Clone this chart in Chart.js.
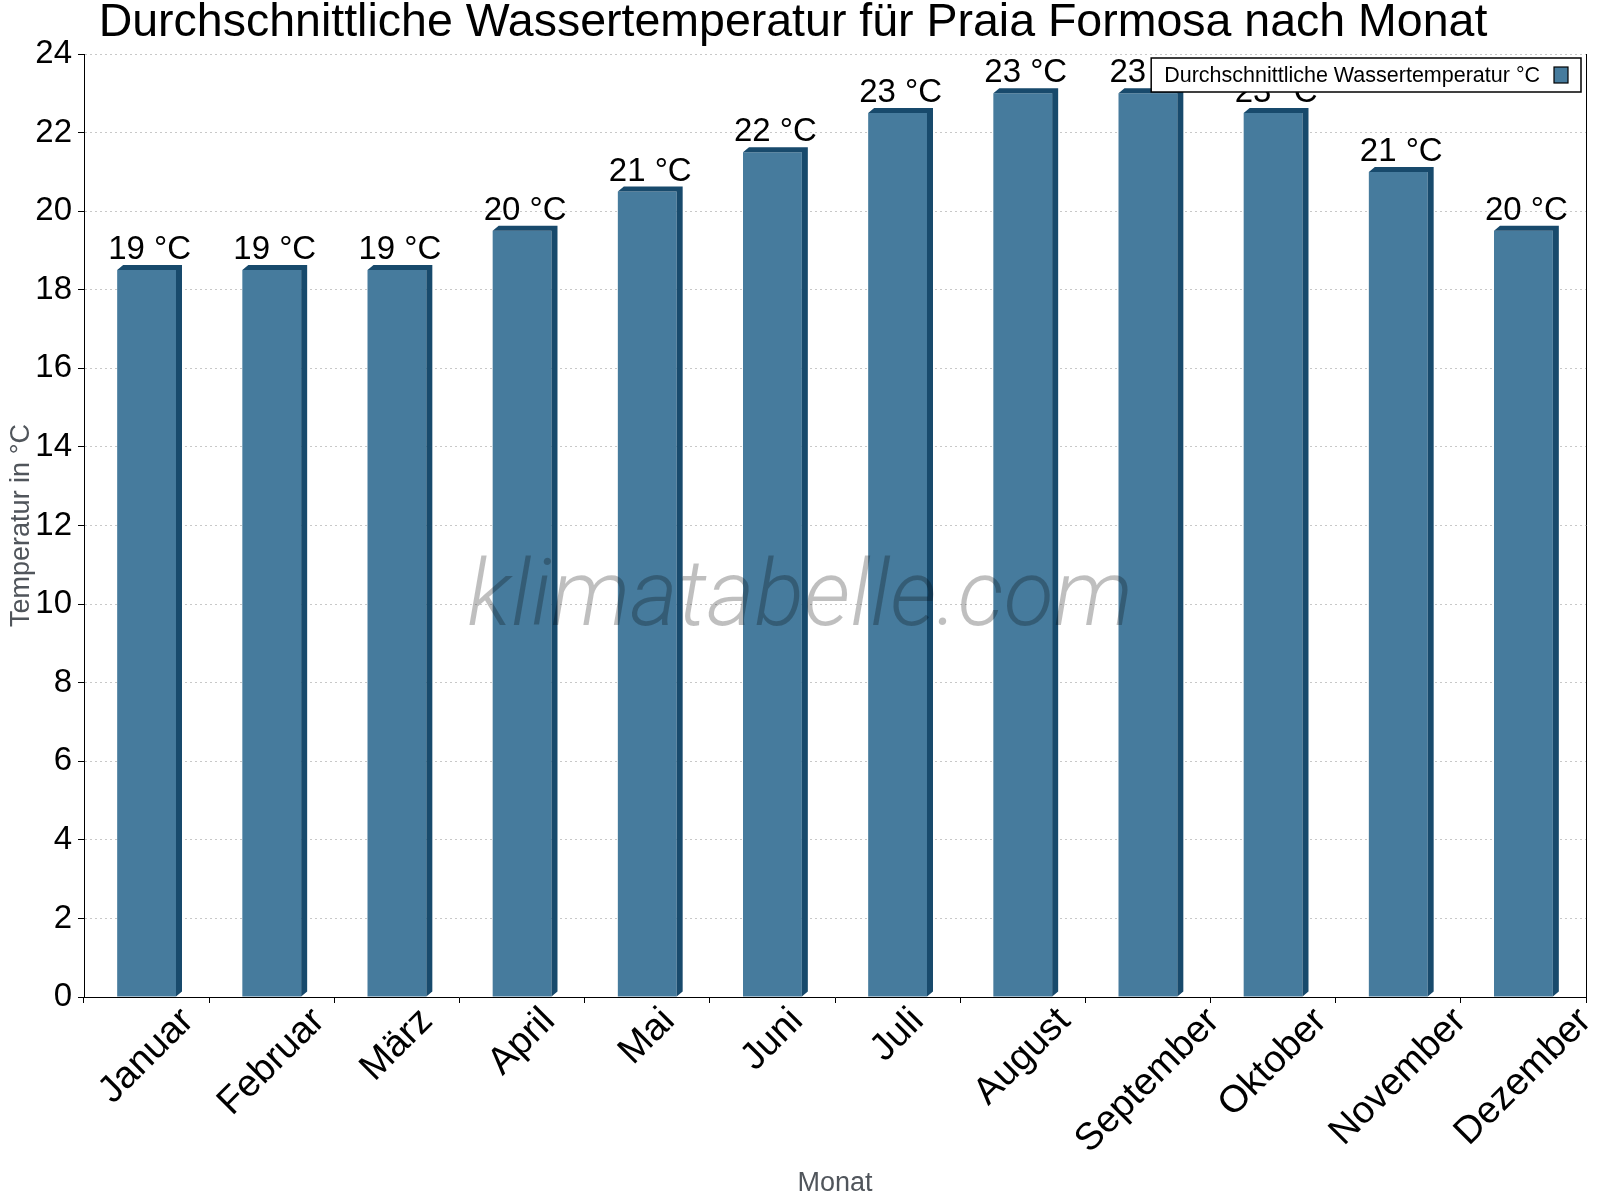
<!DOCTYPE html>
<html>
<head>
<meta charset="utf-8">
<script src="https://cdn.jsdelivr.net/npm/chart.js@4.4.1/dist/chart.umd.min.js"></script>
<style>
  body { margin: 0; background: #fff; }
  #wrap { width: 1600px; height: 1200px; }
</style>
</head>
<body>
<div id="wrap"><canvas id="chart"></canvas></div>
<script>
const months = ["Januar", "Februar", "März", "April", "Mai", "Juni", "Juli",
  "August", "September", "Oktober", "November", "Dezember"];
const waterTemp = [18.5, 18.5, 18.5, 19.5, 20.5, 21.5, 22.5, 23, 23, 22.5, 21, 19.5];
const valueLabels = [19, 19, 19, 20, 21, 22, 23, 23, 23, 23, 21, 20];
const yTicks = [0, 2, 4, 6, 8, 10, 12, 14, 16, 18, 20, 22, 24];

const FONT = "'Liberation Sans', Arial, sans-serif";
const FRONT = "#467b9d";
const DARK = "#184a6c";
const DX = 6, DY = 5;
const XLABEL_SIZE = 38;

// dunkle Seiten- und Deckfläche für den 3D-Effekt
const bars3d = {
  id: "bars3d",
  afterDatasetDraw(chart, args) {
    const ctx = chart.ctx;
    args.meta.data.forEach(function (bar) {
      const p = bar.getProps(["x", "y", "base", "width"], true);
      const l = p.x - p.width / 2, r = p.x + p.width / 2;
      ctx.save();
      ctx.fillStyle = DARK;
      ctx.beginPath();
      ctx.moveTo(l, p.y);
      ctx.lineTo(l + DX, p.y - DY);
      ctx.lineTo(r + DX, p.y - DY);
      ctx.lineTo(r + DX, p.base - DY);
      ctx.lineTo(r, p.base);
      ctx.lineTo(r, p.y);
      ctx.closePath();
      ctx.fill();
      ctx.restore();
    });
  },
};

const valueText = {
  id: "valueText",
  afterDatasetsDraw(chart) {
    const ctx = chart.ctx;
    const meta = chart.getDatasetMeta(0);
    ctx.save();
    ctx.font = "33px " + FONT;
    ctx.fillStyle = "#000";
    ctx.textAlign = "center";
    ctx.textBaseline = "alphabetic";
    meta.data.forEach(function (bar, i) {
      ctx.fillText(valueLabels[i] + " °C", bar.x + 3, bar.y - 11);
    });
    ctx.restore();
  },
};

// Monatsnamen um 45° gedreht, Box mittig unter der Kategorie
const monthLabels = {
  id: "monthLabels",
  afterDraw(chart) {
    const ctx = chart.ctx;
    const xs = chart.scales.x;
    const top = xs.top + 4;
    ctx.save();
    ctx.font = XLABEL_SIZE + "px " + FONT;
    ctx.fillStyle = "#000";
    ctx.textAlign = "center";
    ctx.textBaseline = "middle";
    chart.data.labels.forEach(function (lab, i) {
      const w = ctx.measureText(lab).width;
      const half = (w + XLABEL_SIZE * 1.05) * Math.SQRT1_2 / 2;
      ctx.save();
      ctx.translate(xs.getPixelForValue(i), top + half);
      ctx.rotate(-Math.PI / 4);
      ctx.fillText(lab, 0, 0);
      ctx.restore();
    });
    ctx.restore();
  },
};

const extras = {
  id: "extras",
  afterDraw(chart) {
    const ctx = chart.ctx;
    const area = chart.chartArea;
    ctx.save();
    // rechter Rand
    ctx.strokeStyle = "#000";
    ctx.lineWidth = 1;
    ctx.beginPath();
    ctx.moveTo(area.right + 0.5, area.top);
    ctx.lineTo(area.right + 0.5, area.bottom);
    ctx.stroke();

    // Wasserzeichen
    ctx.font = "italic 300 92px Roboto, " + FONT;
    ctx.fillStyle = "rgba(0,0,0,0.25)";
    ctx.textAlign = "center";
    ctx.textBaseline = "alphabetic";
    ctx.fillText("klimatabelle.com", 800, 625);

    // Legende
    const label = chart.data.datasets[0].label;
    ctx.font = "21.5px " + FONT;
    const tw = ctx.measureText(label).width;
    const boxW = 13 + tw + 14 + 14 + 13;
    const boxR = area.right - 5, boxT = area.top + 4, boxH = 34;
    const boxL = boxR - boxW;
    ctx.fillStyle = "#fff";
    ctx.fillRect(boxL, boxT, boxW, boxH);
    ctx.strokeStyle = "#000";
    ctx.lineWidth = 1.5;
    ctx.strokeRect(boxL, boxT, boxW, boxH);
    ctx.fillStyle = "#000";
    ctx.textAlign = "left";
    ctx.textBaseline = "middle";
    ctx.fillText(label, boxL + 13, boxT + boxH / 2 + 1);
    ctx.fillStyle = FRONT;
    ctx.fillRect(boxR - 27, boxT + 9, 14, 16);
    ctx.lineWidth = 1.2;
    ctx.strokeRect(boxR - 27, boxT + 9, 14, 16);
    ctx.restore();
  },
};

const ctx = document.getElementById("chart").getContext("2d");
new Chart(ctx, {
  type: "bar",
  data: {
    labels: months,
    datasets: [
      {
        label: "Durchschnittliche Wassertemperatur °C",
        data: waterTemp,
        backgroundColor: FRONT,
        borderWidth: 0,
        barPercentage: 0.47,
        categoryPercentage: 1.0,
      },
    ],
  },
  options: {
    responsive: true,
    maintainAspectRatio: false,
    animation: false,
    layout: { padding: { left: 0, right: 14, top: 0, bottom: 0 } },
    plugins: {
      legend: { display: false },
      tooltip: { enabled: false },
      title: {
        display: true,
        text: "Durchschnittliche Wassertemperatur für Praia Formosa nach Monat",
        color: "#000",
        font: { family: FONT, size: 46.5, weight: "normal", lineHeight: 1.0 },
        padding: { top: 0, bottom: 7.5 },
      },
    },
    scales: {
      x: {
        grid: {
          offset: true,
          drawOnChartArea: false,
          tickLength: 6,
          tickColor: "#000",
          tickWidth: 1,
        },
        border: { color: "#000", width: 1 },
        ticks: { display: false, autoSkip: false },
        title: {
          display: true,
          text: "Monat",
          color: "#50555b",
          font: { family: FONT, size: 27 },
          padding: { top: 0, bottom: 0 },
        },
        afterFit(scale) {
          scale.height = 203;
          scale.paddingLeft = 0;
          scale.paddingRight = 0;
        },
      },
      y: {
        min: 0,
        max: 24,
        afterBuildTicks(scale) {
          scale.ticks = yTicks.map(function (v) { return { value: v }; });
        },
        grid: {
          color: "#c8c8c8",
          tickColor: "#000",
          tickLength: 6,
          lineWidth: 1,
        },
        border: { color: "#000", width: 1, dash: [2, 3] },
        ticks: {
          color: "#000",
          font: { family: FONT, size: 33 },
          padding: 6,
        },
        title: {
          display: true,
          text: "Temperatur in °C",
          color: "#50555b",
          font: { family: FONT, size: 27 },
          padding: { top: 5, bottom: 0 },
        },
        afterFit(scale) {
          scale.width = 84;
        },
      },
    },
  },
  plugins: [bars3d, valueText, monthLabels, extras],
});
</script>
</body>
</html>
